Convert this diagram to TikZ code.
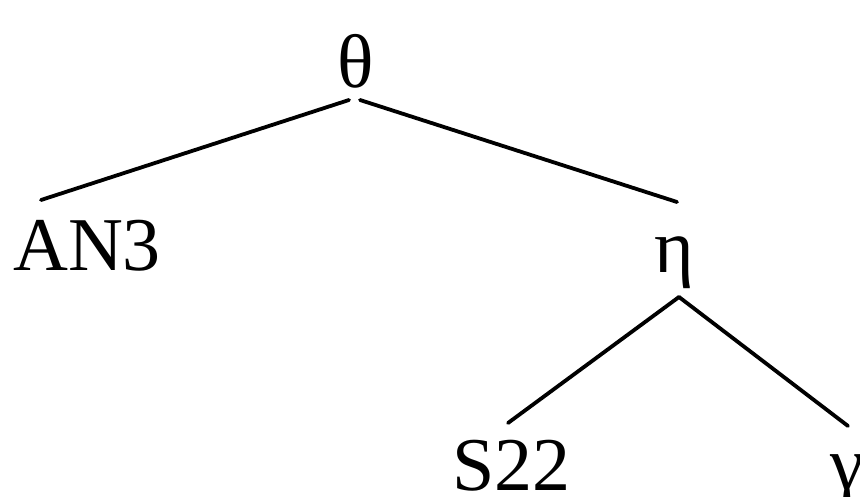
\documentclass[tikz,border=0pt]{standalone}
\usepackage{fontspec}
\setmainfont{Liberation Serif}
\begin{document}
\begin{tikzpicture}[x=1pt,y=-1pt,
  lbl/.style={inner sep=0pt, anchor=base, font=\fontsize{76}{90}\selectfont},
  edge/.style={line width=3.8pt, line cap=round}]
\useasboundingbox (0,0) rectangle (860,497);
\node[lbl] (theta) at (356,88) {θ};
\node[lbl, anchor=base west] (an3) at (13,271) {AN3};
\node[lbl] (eta) at (674,273) {η};
\node[lbl, anchor=base west] (s22) at (452,490) {S22};
\node[lbl, anchor=base west] (gamma) at (830,489) {γ};
\coordinate (tl) at (349,100);
\coordinate (tr) at (360,100);
\coordinate (al) at (41,200);
\coordinate (er) at (677,202);
\coordinate (et) at (679,297);
\coordinate (sl) at (508,423);
\coordinate (gr) at (848,426);
\draw[edge] (tl) -- (al);
\draw[edge] (tr) -- (er);
\draw[edge] (et) -- (sl);
\draw[edge] (et) -- (gr);
\end{tikzpicture}
\end{document}
